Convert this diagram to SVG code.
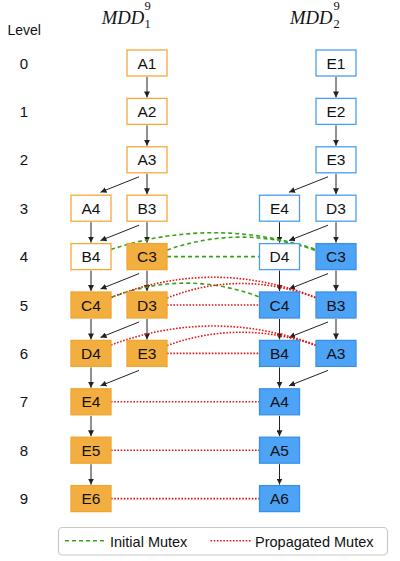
<svg xmlns="http://www.w3.org/2000/svg" width="400" height="561" viewBox="0 0 400 561">
<defs>
<marker id="ah" markerUnits="userSpaceOnUse" markerWidth="7" markerHeight="6" refX="6" refY="3" orient="auto"><path d="M0,0 L6,3 L0,6 z" fill="#222"/></marker>
<style>
.lbl{font-family:"Liberation Sans",Arial,sans-serif;font-size:15.5px;fill:#111;text-anchor:middle}
.lvl{font-family:"Liberation Sans",Arial,sans-serif;font-size:15px;fill:#111;text-anchor:middle}
.ttl{font-family:"Liberation Serif","Times New Roman",serif;font-style:italic;font-size:18.7px;fill:#111}
.idx{font-family:"Liberation Serif","Times New Roman",serif;font-size:12.5px;fill:#111}
.ow{fill:#fff;stroke:#F5A83A;stroke-width:1.3}
.of{fill:#F2AF40;stroke:#F0A52E;stroke-width:1.3}
.bw{fill:#fff;stroke:#4A9DF2;stroke-width:1.3}
.bf{fill:#4DA3F6;stroke:#3B90E6;stroke-width:1.3}
.arr{fill:none;stroke:#222;stroke-width:1;marker-end:url(#ah)}
.gm{fill:none;stroke:#3BA21C;stroke-width:1.6;stroke-dasharray:4 3}
.rm{fill:none;stroke:#E4171A;stroke-width:1.6;stroke-dasharray:1.6 1.6}
</style>
</defs>
<rect width="400" height="561" fill="#fff"/>

<g id="headers">
<text x="7.5" y="34.5" font-family="Liberation Sans,Arial,sans-serif" font-size="14" fill="#111">Level</text>
<text class="ttl" x="101.7" y="24">MDD</text><text class="idx" x="144.5" y="10.2">9</text><text class="idx" x="144.5" y="28.3">1</text>
<text class="ttl" x="290" y="24">MDD</text><text class="idx" x="333.5" y="10.2">9</text><text class="idx" x="333.5" y="28.3">2</text>
<text class="lvl" x="24" y="68.5">0</text>
<text class="lvl" x="24" y="116.9">1</text>
<text class="lvl" x="24" y="165.3">2</text>
<text class="lvl" x="24" y="213.7">3</text>
<text class="lvl" x="24" y="262.1">4</text>
<text class="lvl" x="24" y="310.5">5</text>
<text class="lvl" x="24" y="358.9">6</text>
<text class="lvl" x="24" y="407.3">7</text>
<text class="lvl" x="24" y="455.7">8</text>
<text class="lvl" x="24" y="504.1">9</text>
</g>

<g id="connectors">
<!-- left MDD -->
<path class="arr" d="M147,77 V97.4"/>
<path class="arr" d="M147,125.4 V145.8"/>
<path class="arr" d="M147,173.8 V194.2"/>
<path class="arr" d="M147,222.2 V242.6"/>
<path class="arr" d="M147,270.6 V291"/>
<path class="arr" d="M147,319 V339.4"/>
<path class="arr" d="M91,222.2 V242.6"/>
<path class="arr" d="M91,270.6 V291"/>
<path class="arr" d="M91,319 V339.4"/>
<path class="arr" d="M91,367.4 V387.8"/>
<path class="arr" d="M91,415.8 V436.2"/>
<path class="arr" d="M91,464.2 V484.6"/>
<path class="arr" d="M139,176.8 L100.5,192.2"/>
<path class="arr" d="M139,225.2 L100.5,240.6"/>
<path class="arr" d="M139,273.6 L100.5,289"/>
<path class="arr" d="M139,322 L100.5,337.4"/>
<path class="arr" d="M139,370.4 L100.5,385.8"/>
<!-- right MDD -->
<path class="arr" d="M336,77 V97.4"/>
<path class="arr" d="M336,125.4 V145.8"/>
<path class="arr" d="M336,173.8 V194.2"/>
<path class="arr" d="M336,222.2 V242.6"/>
<path class="arr" d="M336,270.6 V291"/>
<path class="arr" d="M336,319 V339.4"/>
<path class="arr" d="M279.5,222.2 V242.6"/>
<path class="arr" d="M279.5,270.6 V291"/>
<path class="arr" d="M279.5,319 V339.4"/>
<path class="arr" d="M279.5,367.4 V387.8"/>
<path class="arr" d="M279.5,415.8 V436.2"/>
<path class="arr" d="M279.5,464.2 V484.6"/>
<path class="arr" d="M328,176.8 L289,192.2"/>
<path class="arr" d="M328,225.2 L289,240.6"/>
<path class="arr" d="M328,273.6 L289,289"/>
<path class="arr" d="M328,322 L289,337.4"/>
<path class="arr" d="M328,370.4 L289,385.8"/>
<!-- mutexes -->
<path class="gm" d="M111,249.5 Q213,216 316,249.5"/>
<path class="gm" d="M167,250 Q241,224 316,250.5"/>
<path class="gm" d="M167,256.6 H259.5"/>
<path class="gm" d="M111,297.5 Q185,269 259.5,297"/>
<path class="rm" d="M111,297.5 Q213,257 316,297.5"/>
<path class="rm" d="M167,298 Q241,269 316,298"/>
<path class="rm" d="M167,305 H259.5"/>
<path class="rm" d="M111,345 Q213,307 316,345"/>
<path class="rm" d="M167,345.5 Q241,319 316,345.5"/>
<path class="rm" d="M167,353.4 H259.5"/>
<path class="rm" d="M111,401.8 H259.5"/>
<path class="rm" d="M111,450.2 H259.5"/>
<path class="rm" d="M111,498.6 H259.5"/>
</g>

<g id="L-A1"><rect class="ow" x="127" y="50" width="40" height="26"/><text class="lbl" x="147" y="68.5">A1</text></g>
<g id="L-A2"><rect class="ow" x="127" y="98.4" width="40" height="26"/><text class="lbl" x="147" y="116.9">A2</text></g>
<g id="L-A3"><rect class="ow" x="127" y="146.8" width="40" height="26"/><text class="lbl" x="147" y="165.3">A3</text></g>
<g id="L-A4"><rect class="ow" x="71" y="195.2" width="40" height="26"/><text class="lbl" x="91" y="213.7">A4</text></g>
<g id="L-B3"><rect class="ow" x="127" y="195.2" width="40" height="26"/><text class="lbl" x="147" y="213.7">B3</text></g>
<g id="L-B4"><rect class="ow" x="71" y="243.6" width="40" height="26"/><text class="lbl" x="91" y="262.1">B4</text></g>
<g id="L-C3"><rect class="of" x="127" y="243.6" width="40" height="26"/><text class="lbl" x="147" y="262.1">C3</text></g>
<g id="L-C4"><rect class="of" x="71" y="292" width="40" height="26"/><text class="lbl" x="91" y="310.5">C4</text></g>
<g id="L-D3"><rect class="of" x="127" y="292" width="40" height="26"/><text class="lbl" x="147" y="310.5">D3</text></g>
<g id="L-D4"><rect class="of" x="71" y="340.4" width="40" height="26"/><text class="lbl" x="91" y="358.9">D4</text></g>
<g id="L-E3"><rect class="of" x="127" y="340.4" width="40" height="26"/><text class="lbl" x="147" y="358.9">E3</text></g>
<g id="L-E4"><rect class="of" x="71" y="388.8" width="40" height="26"/><text class="lbl" x="91" y="407.3">E4</text></g>
<g id="L-E5"><rect class="of" x="71" y="437.2" width="40" height="26"/><text class="lbl" x="91" y="455.7">E5</text></g>
<g id="L-E6"><rect class="of" x="71" y="485.6" width="40" height="26"/><text class="lbl" x="91" y="504.1">E6</text></g>

<g id="R-E1"><rect class="bw" x="316" y="50" width="40" height="26"/><text class="lbl" x="336" y="68.5">E1</text></g>
<g id="R-E2"><rect class="bw" x="316" y="98.4" width="40" height="26"/><text class="lbl" x="336" y="116.9">E2</text></g>
<g id="R-E3"><rect class="bw" x="316" y="146.8" width="40" height="26"/><text class="lbl" x="336" y="165.3">E3</text></g>
<g id="R-E4"><rect class="bw" x="259.5" y="195.2" width="40" height="26"/><text class="lbl" x="279.5" y="213.7">E4</text></g>
<g id="R-D3"><rect class="bw" x="316" y="195.2" width="40" height="26"/><text class="lbl" x="336" y="213.7">D3</text></g>
<g id="R-D4"><rect class="bw" x="259.5" y="243.6" width="40" height="26"/><text class="lbl" x="279.5" y="262.1">D4</text></g>
<g id="R-C3"><rect class="bf" x="316" y="243.6" width="40" height="26"/><text class="lbl" x="336" y="262.1">C3</text></g>
<g id="R-C4"><rect class="bf" x="259.5" y="292" width="40" height="26"/><text class="lbl" x="279.5" y="310.5">C4</text></g>
<g id="R-B3"><rect class="bf" x="316" y="292" width="40" height="26"/><text class="lbl" x="336" y="310.5">B3</text></g>
<g id="R-B4"><rect class="bf" x="259.5" y="340.4" width="40" height="26"/><text class="lbl" x="279.5" y="358.9">B4</text></g>
<g id="R-A3"><rect class="bf" x="316" y="340.4" width="40" height="26"/><text class="lbl" x="336" y="358.9">A3</text></g>
<g id="R-A4"><rect class="bf" x="259.5" y="388.8" width="40" height="26"/><text class="lbl" x="279.5" y="407.3">A4</text></g>
<g id="R-A5"><rect class="bf" x="259.5" y="437.2" width="40" height="26"/><text class="lbl" x="279.5" y="455.7">A5</text></g>
<g id="R-A6"><rect class="bf" x="259.5" y="485.6" width="40" height="26"/><text class="lbl" x="279.5" y="504.1">A6</text></g>

<g id="legend">
<rect x="58.5" y="527.5" width="329" height="27.5" rx="4" fill="#fff" stroke="#c8c8c8" stroke-width="1.2"/>
<path class="gm" d="M65,540.8 H106" stroke-width="1.3"/>
<text x="110" y="546.5" font-family="Liberation Sans,Arial,sans-serif" font-size="14.5" fill="#111">Initial Mutex</text>
<path class="rm" d="M210.5,540.8 H252" stroke-width="1.3"/>
<text x="255" y="546.5" font-family="Liberation Sans,Arial,sans-serif" font-size="14.5" fill="#111">Propagated Mutex</text>
</g>
</svg>
